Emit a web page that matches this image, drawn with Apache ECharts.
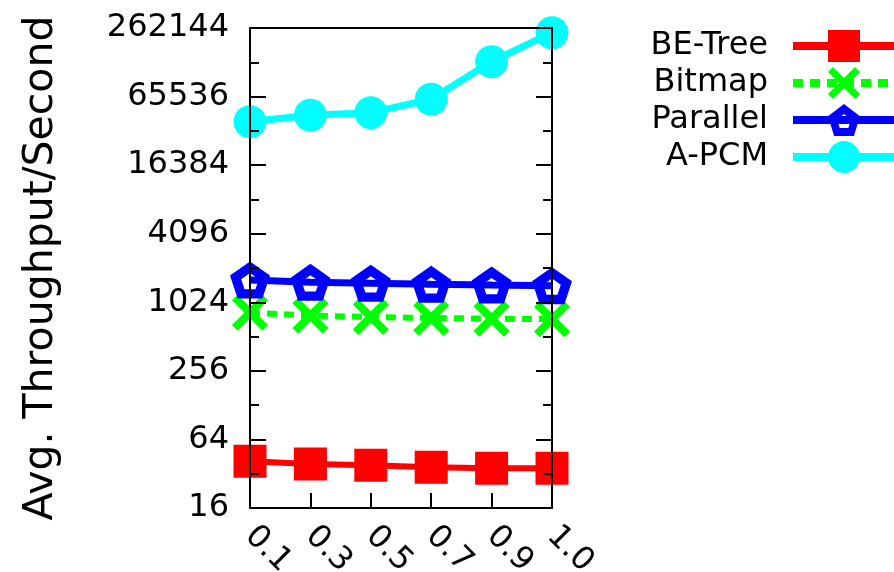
<!DOCTYPE html>
<html>
<head>
<meta charset="utf-8">
<script src="https://cdn.jsdelivr.net/npm/echarts@6/dist/echarts.min.js"></script>
<style>html,body{margin:0;padding:0;background:#fff}#c{width:894px;height:572px}</style>
</head>
<body>
<div id="c"></div>
<script>
// ---- data ----
const categories = ['0.1', '0.3', '0.5', '0.7', '0.9', '1.0'];
const beTree   = [41.2, 39.0, 38.0, 36.5, 35.8, 35.8];
const bitmap   = [830, 781, 761, 746, 735, 727];
const parallel = [1608, 1535, 1505, 1475, 1454, 1434];
const apcm     = [39420, 44900, 47300, 62060, 132600, 238300];
const yTickLabels = ['16', '64', '256', '1024', '4096', '16384', '65536', '262144'];
const seriesNames = ['BE-Tree', 'Bitmap', 'Parallel', 'A-PCM'];

const FONT = 'DejaVu Sans';
const lg = v => Math.log2(v);
const yMin = lg(16), yMax = lg(262144);

const X_PATH = 'path://M15.6,0L100,84.4L84.4,100L0,15.6ZM84.4,0L100,15.6L15.6,100L0,84.4Z';
const PENT_PATH = 'path://M50,0L97.55,34.55L79.39,90.45L20.61,90.45L2.45,34.55ZM50,28L29.1,43.2L37.1,67.8L62.9,67.8L70.9,43.2Z';

const colors = ['#ff0000', '#00ff00', '#0000ff', '#00ffff'];
const axisLine = { show: true, lineStyle: { color: '#000', width: 2 } };

const chart = echarts.init(document.getElementById('c'), null, { renderer: 'canvas' });
chart.setOption({
  animation: false,
  backgroundColor: '#fff',
  grid: { left: 250, right: 342, top: 28, bottom: 64, containLabel: false, outerBoundsMode: 'none' },
  legend: {
    data: [
      { name: seriesNames[0], lineStyle: { width: 8, color: colors[0] } },
      { name: seriesNames[1], lineStyle: { width: 8, color: colors[1], type: [10, 7] } },
      { name: seriesNames[2], lineStyle: { width: 8, color: colors[2] } },
      { name: seriesNames[3], lineStyle: { width: 8, color: colors[3] } }
    ],
    orient: 'vertical',
    align: 'right',
    right: -5,
    top: 30,
    padding: 0,
    itemWidth: 102,
    itemHeight: 40,
    itemGap: 5,
    textStyle: { fontFamily: FONT, fontSize: 32, color: '#000', padding: [0, 20, 0, 0] }
  },
  xAxis: [{
    type: 'category',
    data: categories,
    boundaryGap: false,
    position: 'bottom',
    z: 5,
    axisLine: axisLine,
    axisTick: { show: true, inside: true, length: 15, lineStyle: { color: '#000', width: 2 } },
    axisLabel: { rotate: -45, margin: 23, fontFamily: FONT, fontSize: 32, color: '#000' },
    splitLine: { show: false }
  }, {
    type: 'category',
    data: categories,
    boundaryGap: false,
    position: 'top',
    z: 5,
    axisLine: axisLine,
    axisTick: { show: false },
    axisLabel: { show: false },
    splitLine: { show: false }
  }],
  yAxis: [{
    type: 'value',
    min: yMin, max: yMax, interval: 2,
    position: 'left',
    z: 5,
    axisLine: axisLine,
    axisTick: { show: true, inside: true, length: 16, lineStyle: { color: '#000', width: 2 } },
    minorTick: { show: true, splitNumber: 2, length: 9, lineStyle: { color: '#000', width: 2 } },
    splitLine: { show: false },
    axisLabel: {
      margin: 21, fontFamily: FONT, fontSize: 32, color: '#000',
      formatter: v => yTickLabels[Math.round((v - yMin) / 2)] || ''
    },
    name: 'Avg. Throughput/Second',
    nameLocation: 'middle',
    nameGap: 188,
    nameTextStyle: { fontFamily: FONT, fontSize: 41, color: '#000' }
  }, {
    type: 'value',
    min: yMin, max: yMax, interval: 2,
    position: 'right',
    z: 5,
    axisLine: axisLine,
    axisTick: { show: true, inside: true, length: 16, lineStyle: { color: '#000', width: 2 } },
    minorTick: { show: true, splitNumber: 2, length: 9, lineStyle: { color: '#000', width: 2 } },
    splitLine: { show: false },
    axisLabel: { show: false }
  }],
  series: [{
    name: 'BE-Tree', type: 'line', data: beTree.map(lg),
    symbol: 'rect', symbolSize: 33,
    itemStyle: { color: colors[0] },
    lineStyle: { color: colors[0], width: 6 }
  }, {
    name: 'Bitmap', type: 'line', data: bitmap.map(lg),
    symbol: X_PATH, symbolSize: 36,
    itemStyle: { color: colors[1] },
    lineStyle: { color: colors[1], width: 6, type: [10, 7] }
  }, {
    name: 'Parallel', type: 'line', data: parallel.map(lg),
    symbol: PENT_PATH, symbolSize: [40, 37],
    itemStyle: { color: colors[2] },
    lineStyle: { color: colors[2], width: 7 }
  }, {
    name: 'A-PCM', type: 'line', data: apcm.map(lg),
    symbol: 'circle', symbolSize: 33,
    itemStyle: { color: colors[3] },
    lineStyle: { color: colors[3], width: 7 }
  }]
});
</script>
</body>
</html>
